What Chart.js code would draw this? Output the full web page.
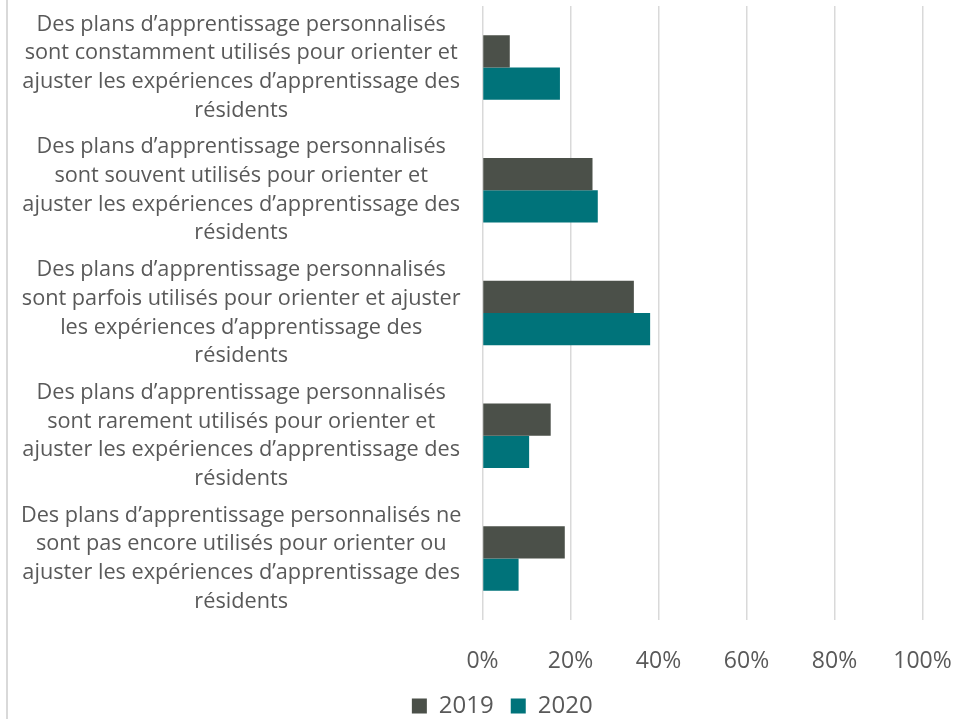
<!DOCTYPE html>
<html>
<head>
<meta charset="utf-8">
<script src="https://cdn.jsdelivr.net/npm/chart.js@4/dist/chart.umd.min.js"></script>
<style>
  html, body { margin: 0; padding: 0; background: #fff; }
  #wrap { position: relative; width: 957px; height: 719px; }
  #wrap::before {
    content: ''; position: absolute; left: 6px; top: 0; width: 2px; height: 719px;
    background: #d9d9d9;
  }
</style>
</head>
<body>
<div id="wrap"><canvas id="chart" width="957" height="719"></canvas></div>
<script>
const categories = [
  ['Des plans d’apprentissage personnalisés', 'sont constamment utilisés pour orienter et', 'ajuster les expériences d’apprentissage des', 'résidents'],
  ['Des plans d’apprentissage personnalisés', 'sont souvent utilisés pour orienter et', 'ajuster les expériences d’apprentissage des', 'résidents'],
  ['Des plans d’apprentissage personnalisés', 'sont parfois utilisés pour orienter et ajuster', 'les expériences d’apprentissage des', 'résidents'],
  ['Des plans d’apprentissage personnalisés', 'sont rarement utilisés pour orienter et', 'ajuster les expériences d’apprentissage des', 'résidents'],
  ['Des plans d’apprentissage personnalisés ne', 'sont pas encore utilisés pour orienter ou', 'ajuster les expériences d’apprentissage des', 'résidents']
];
const values2019 = [6.2, 25.0, 34.4, 15.5, 18.7];
const values2020 = [17.6, 26.2, 38.1, 10.6, 8.2];
const xTicks = [0, 20, 40, 60, 80, 100];

const textColor = '#595959';
const fontFamily = '"Open Sans", sans-serif';

// move the legend right and down, like the original
const legendShift = {
  id: 'legendShift',
  afterLayout(chart) {
    const lg = chart.legend;
    if (lg) {
      lg.left += 41; lg.right += 41;
      lg.top += 9; lg.bottom += 9;
    }
  }
};

new Chart(document.getElementById('chart'), {
  type: 'bar',
  data: {
    labels: categories,
    datasets: [
      { label: '2019', data: values2019, backgroundColor: '#4b5049' },
      { label: '2020', data: values2020, backgroundColor: '#00737a' }
    ]
  },
  options: {
    indexAxis: 'y',
    responsive: false,
    animation: false,
    categoryPercentage: 0.525,
    barPercentage: 1,
    layout: { padding: { top: 6, right: 34.5, left: 0, bottom: 0 } },
    plugins: {
      legend: {
        position: 'bottom',
        labels: {
          color: textColor,
          font: { family: fontFamily, size: 24 },
          boxWidth: 15,
          boxHeight: 15,
          padding: 17
        }
      },
      tooltip: { enabled: false }
    },
    scales: {
      x: {
        min: 0,
        max: 100,
        afterBuildTicks: (scale) => { scale.ticks = xTicks.map(v => ({ value: v })); },
        afterFit: (scale) => {
          scale.height = 48;
          scale.paddingLeft = 0;
          scale.paddingRight = 0;
        },
        grid: { color: '#d9d9d9', lineWidth: 1.5, drawTicks: false },
        border: { display: false },
        ticks: {
          color: textColor,
          font: { family: fontFamily, size: 23 },
          padding: 28,
          callback: (v) => v + '%'
        }
      },
      y: {
        grid: { display: false, drawTicks: false },
        border: { display: false },
        afterFit: (scale) => {
          scale.width = 482.5;
          scale.paddingTop = 0;
          scale.paddingBottom = 0;
        },
        ticks: {
          color: textColor,
          font: { family: fontFamily, size: 21.7, lineHeight: 1.32 },
          crossAlign: 'center',
          padding: 21,
          autoSkip: false
        }
      }
    }
  },
  plugins: [legendShift]
});
</script>
</body>
</html>
